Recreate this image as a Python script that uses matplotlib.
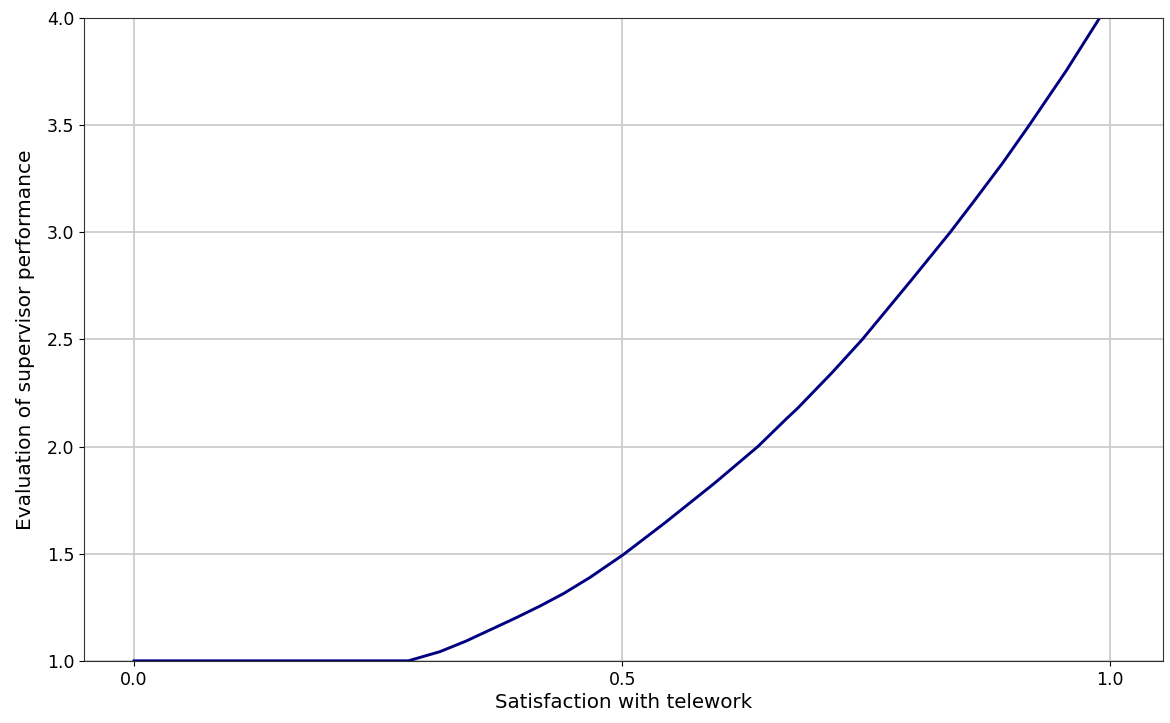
import numpy as np
import matplotlib
matplotlib.use("Agg")
import matplotlib.pyplot as plt

# values
satisfaction = [0.0, 0.281, 0.3135, 0.34, 0.365, 0.39, 0.416, 0.44, 0.467, 0.501,
                0.5435, 0.5946, 0.639, 0.669, 0.680, 0.715, 0.746, 0.795, 0.836,
                0.860, 0.89, 0.917, 0.955, 0.989, 1.0]
evaluation = [1.0, 1.0, 1.043, 1.092, 1.145, 1.198, 1.256, 1.314, 1.389, 1.495,
              1.643, 1.829, 2.0, 2.133, 2.18, 2.345, 2.5, 2.77, 3.0,
              3.143, 3.325, 3.5, 3.755, 4.0, 4.08]

xticks = [0.0, 0.5, 1.0]
yticks = [1.0, 1.5, 2.0, 2.5, 3.0, 3.5, 4.0]

fig = plt.figure(figsize=(11.7, 7.23), dpi=100)
ax = fig.add_axes([0.072, 0.086, 0.922, 0.889])

ax.plot(satisfaction, evaluation, color='navy', linewidth=2.1)

ax.set_xlim(-0.051, 1.054)
ax.set_ylim(1.0, 4.0)
ax.set_xticks(xticks)
ax.set_yticks(yticks)
ax.tick_params(labelsize=12.5)
ax.grid(True, color='#c8c8c8', linewidth=1.2)

ax.set_xlabel('Satisfaction with telework', fontsize=14.3, labelpad=3)
ax.set_ylabel('Evaluation of supervisor performance', fontsize=14.5, labelpad=9)

for s in ax.spines.values():
    s.set_color('#333333')

fig.savefig('out.png', dpi=100)
